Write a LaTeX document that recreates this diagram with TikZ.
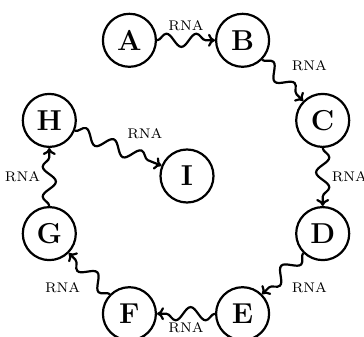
\documentclass[tikz,border=0pt]{standalone}
\usetikzlibrary{decorations.pathmorphing,arrows.meta}
\begin{document}
\begin{tikzpicture}[x=0.5pt,y=-0.5pt,
  state/.style={draw,circle,line width=1.1pt,minimum size=26.5pt,inner sep=0pt,font=\Large\bfseries},
  wavy/.style={-{To[length=3.5pt,width=6.5pt]},line width=1.1pt,decorate,decoration={snake,amplitude=3.3pt,segment length=15pt,post length=4pt}},
  lbl/.style={font=\scriptsize,auto,inner sep=4pt}]
\useasboundingbox (0,0) rectangle (364,337);
\node[state] (A) at (129.4,40.3) {A};
\node[state] (B) at (242.6,40.3) {B};
\node[state] (C) at (322.7,120.4) {C};
\node[state] (D) at (322.7,233.6) {D};
\node[state] (E) at (242.6,313.7) {E};
\node[state] (F) at (129.4,313.7) {F};
\node[state] (G) at (49.3,233.6) {G};
\node[state] (H) at (49.3,120.4) {H};
\node[state] (I) at (187,176) {I};
\draw[wavy] (A) -- node[lbl] {RNA} (B);
\draw[wavy] (B) -- node[lbl] {RNA} (C);
\draw[wavy] (C) -- node[lbl] {RNA} (D);
\draw[wavy] (D) -- node[lbl] {RNA} (E);
\draw[wavy] (E) -- node[lbl] {RNA} (F);
\draw[wavy] (F) -- node[lbl] {RNA} (G);
\draw[wavy] (G) -- node[lbl] {RNA} (H);
\draw[wavy] (H) -- node[lbl] {RNA} (I);
\end{tikzpicture}
\end{document}
